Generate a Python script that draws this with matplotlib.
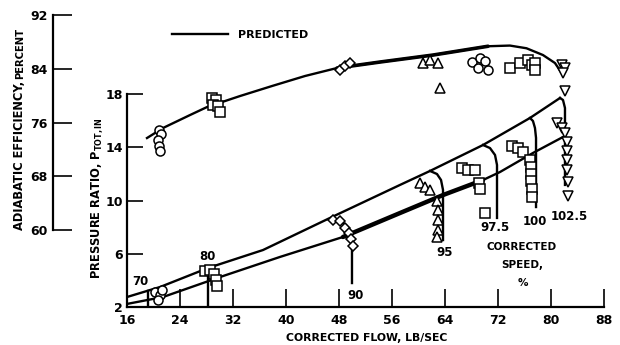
import matplotlib
matplotlib.use("Agg")
import matplotlib.pyplot as plt

plt.rcParams["font.family"] = ["Liberation Sans Narrow", "DejaVu Sans"]
plt.rcParams["font.weight"] = "bold"

# predicted pressure-ratio lines (corrected flow lb/sec, pressure ratio)
upper_flow = [16.0, 20.98, 28.23, 36.53, 46.64, 57.21, 61.74, 69.74, 76.83, 81.36]
upper_pr = [2.75, 3.50, 4.93, 6.28, 8.69, 11.17, 12.22, 14.17, 16.20, 17.70]
lower_flow = [16.0, 21.43, 30.04, 39.09, 48.60, 57.21, 63.70, 69.74, 72.30, 77.28, 81.81]
lower_pr = [2.23, 2.75, 4.25, 5.76, 7.26, 9.06, 10.41, 11.54, 12.14, 13.57, 14.77]

# predicted speed lines
sp70_flow = [19.17, 19.17]
sp70_pr = [3.20, 2.00]
sp80_flow = [28.23, 28.23]
sp80_pr = [4.93, 2.15]
sp90_flow = [47.85, 49.06, 49.66, 49.96, 49.96]
sp90_pr = [8.54, 8.16, 7.63, 7.03, 3.80]
sp95_flow = [61.74, 62.79, 63.40, 63.70, 63.70]
sp95_pr = [12.22, 11.99, 11.54, 10.79, 7.03]
sp975_flow = [69.74, 70.79, 71.55, 71.85, 71.85]
sp975_pr = [14.17, 13.94, 13.42, 12.67, 8.69]
sp100_flow = [76.83, 77.28, 77.58, 77.74, 77.74]
sp100_pr = [16.20, 15.97, 15.45, 14.70, 9.51]
sp1025_flow = [81.36, 81.81, 82.11, 82.11, 82.11]
sp1025_pr = [17.70, 17.55, 16.95, 16.05, 11.17]

# predicted efficiency
eff_flow = [19.02, 21.43, 25.51, 28.08, 33.06, 37.89, 42.87, 47.70, 54.19, 62.19,
            70.5, 73.8, 76.3, 78.79, 80.60, 81.81]
eff_pred = [73.69, 75.18, 77.11, 78.30, 79.94, 81.43, 82.92, 84.11, 85.0, 86.04,
            87.35, 87.45, 87.05, 86.04, 84.85, 83.07]

# test data, pressure ratio
t70_flow = [20.23, 20.98, 20.68, 21.28]
t70_pr = [3.13, 2.90, 2.53, 3.28]
t80_flow = [27.77, 28.53, 29.13, 29.43, 29.58]
t80_pr = [4.70, 4.78, 4.48, 4.03, 3.58]
t90_flow = [47.09, 48.15, 48.91, 49.51, 49.81, 50.11]
t90_pr = [8.54, 8.46, 7.94, 7.56, 7.11, 6.58]
t95_flow = [60.23, 60.98, 61.74, 62.79, 62.94, 62.94, 62.94, 62.79]
t95_pr = [11.32, 11.02, 10.79, 9.96, 9.29, 8.54, 7.79, 7.26]
t975_flow = [66.57, 67.47, 68.53, 69.13, 69.28, 70.04]
t975_pr = [12.44, 12.29, 12.29, 11.32, 10.87, 9.06]
t100_flow = [74.11, 75.02, 75.77, 76.83, 76.98, 76.98, 76.98, 77.13, 77.13]
t100_pr = [14.10, 13.95, 13.65, 13.04, 12.52, 11.99, 11.47, 10.87, 10.26]
t1025_flow = [80.91, 81.66, 82.11, 82.42, 82.42, 82.42, 82.42, 82.57, 82.57]
t1025_pr = [15.82, 15.45, 15.07, 14.40, 13.72, 13.04, 12.29, 11.39, 10.34]

# test data, efficiency
e70_flow = [20.83, 21.13, 20.68, 20.83, 20.98]
e70_eff = [74.88, 74.29, 73.39, 72.50, 71.76]
e80_flow = [28.83, 29.43, 28.98, 29.74, 30.04]
e80_eff = [79.64, 79.35, 78.60, 78.45, 77.56]
e90_flow = [48.15, 48.91, 49.66]
e90_eff = [83.81, 84.40, 84.85]
e95_flow = [60.68, 61.74, 62.94, 63.24]
e95_eff = [84.85, 85.30, 84.85, 81.13]
e975_flow = [68.08, 69.28, 70.04, 68.98, 70.49]
e975_eff = [85.0, 85.60, 85.15, 84.11, 83.81]
e100_flow = [73.81, 75.32, 76.53, 77.13, 77.58, 77.58]
e100_eff = [84.11, 84.85, 85.30, 84.55, 84.85, 83.81]
e1025_flow = [81.66, 82.11, 81.81, 82.11]
e1025_eff = [84.55, 84.11, 83.36, 80.68]

flow_ticks = [16, 24, 32, 40, 48, 56, 64, 72, 80, 88]
pr_ticks = [2, 6, 10, 14, 18]
eff_ticks = [60, 68, 76, 84, 92]

fig = plt.figure(figsize=(6.2, 3.45), dpi=100)
ax = fig.add_axes([127 / 620, 38 / 345, 477 / 620, 213 / 345])
ax2 = fig.add_axes([127 / 620, 115 / 345, 477 / 620, 215 / 345], sharex=ax)
ax2.patch.set_visible(False)

ax.set_xlim(16, 88)
ax.set_ylim(2, 18)
ax2.set_ylim(60, 92)

for s in ["top", "right"]:
    ax.spines[s].set_visible(False)
for s in ["top", "right", "bottom"]:
    ax2.spines[s].set_visible(False)
ax2.spines["left"].set_position(("axes", (53 - 127) / 477))
for sp in [ax.spines["left"], ax.spines["bottom"], ax2.spines["left"]]:
    sp.set_linewidth(1.6)

ax.set_xticks(flow_ticks)
ax.set_yticks(pr_ticks)
ax2.set_yticks(eff_ticks)
ax.tick_params(axis="x", direction="in", length=13, width=1.2, pad=5, labelsize=9)
ax.tick_params(axis="y", direction="in", length=11.5, width=1.2, pad=3, labelsize=9)
ax2.tick_params(axis="y", direction="in", length=13.5, width=1.2, pad=4, labelsize=9)
ax2.tick_params(axis="x", bottom=False, labelbottom=False)

lw = 1.7
ax.plot(upper_flow, upper_pr, color="black", lw=lw)
ax.plot(lower_flow, lower_pr, color="black", lw=lw)
# the scan shows the middle of the lower line drawn heavier
ax.plot(lower_flow[4:8], lower_pr[4:8], color="black", lw=3.2, solid_capstyle="round")
for fl, pr in [(sp70_flow, sp70_pr), (sp80_flow, sp80_pr), (sp90_flow, sp90_pr),
               (sp95_flow, sp95_pr), (sp975_flow, sp975_pr), (sp100_flow, sp100_pr),
               (sp1025_flow, sp1025_pr)]:
    ax.plot(fl, pr, color="black", lw=lw)

ax2.plot(eff_flow, eff_pred, color="black", lw=lw)
ax2.plot(eff_flow[7:11], eff_pred[7:11], color="black", lw=2.6, solid_capstyle="round")

mk = dict(ls="none", mfc="white", mec="black", mew=1.1, ms=6.5, clip_on=False)
ax.plot(t70_flow, t70_pr, marker="o", **mk)
ax.plot(t80_flow, t80_pr, marker="s", **mk)
ax.plot(t90_flow, t90_pr, marker="D", **dict(mk, ms=5.5))
ax.plot(t95_flow, t95_pr, marker="^", **mk)
ax.plot(t975_flow, t975_pr, marker="s", **mk)
ax.plot(t100_flow, t100_pr, marker="s", **mk)
ax.plot(t1025_flow, t1025_pr, marker="v", **mk)

ax2.plot(e70_flow, e70_eff, marker="o", **mk)
ax2.plot(e80_flow, e80_eff, marker="s", **mk)
ax2.plot(e90_flow, e90_eff, marker="D", **dict(mk, ms=5.5))
ax2.plot(e95_flow, e95_eff, marker="^", **mk)
ax2.plot(e975_flow, e975_eff, marker="o", **mk)
ax2.plot(e100_flow, e100_eff, marker="s", **mk)
ax2.plot(e1025_flow, e1025_eff, marker="v", **mk)

fs = 8.5
ax.text(17.96, 3.88, "70", ha="center", va="center", fontsize=fs)
ax.text(28.08, 5.83, "80", ha="center", va="center", fontsize=fs)
ax.text(50.57, 2.90, "90", ha="center", va="center", fontsize=fs)
ax.text(64.0, 6.06, "95", ha="center", va="center", fontsize=fs)
ax.text(71.55, 7.94, "97.5", ha="center", va="center", fontsize=fs)
ax.text(77.6, 8.39, "100", ha="center", va="center", fontsize=fs)
ax.text(82.7, 8.80, "102.5", ha="center", va="center", fontsize=fs)
ax.text(75.62, 6.51, "CORRECTED", ha="center", va="center", fontsize=7.5)
ax.text(75.62, 5.16, "SPEED,", ha="center", va="center", fontsize=7.5)
ax.text(75.77, 3.80, "%", ha="center", va="center", fontsize=7.5)

fig.text(367 / 620, 1 - 338 / 345, "CORRECTED FLOW, LB/SEC", ha="center", va="center", fontsize=7.8)
fig.text(97 / 620, 1 - 198 / 345, "PRESSURE RATIO, P$_{\\mathregular{TOT,IN}}$",
         rotation=90, ha="center", va="center", fontsize=8.3)
fig.text(20 / 620, 1 - 230 / 345, "ADIABATIC EFFICIENCY,", rotation=90,
         ha="center", va="bottom", fontsize=8.3)
fig.text(20 / 620, 1 - 79 / 345, "PERCENT", rotation=90, ha="center", va="bottom", fontsize=7.2)

fig.add_artist(plt.Line2D([172 / 620, 228 / 620], [1 - 34 / 345, 1 - 34 / 345],
                          color="black", lw=lw))
fig.text(238 / 620, 1 - 35 / 345, "PREDICTED", ha="left", va="center", fontsize=8)

fig.savefig("out.png", dpi=100)
